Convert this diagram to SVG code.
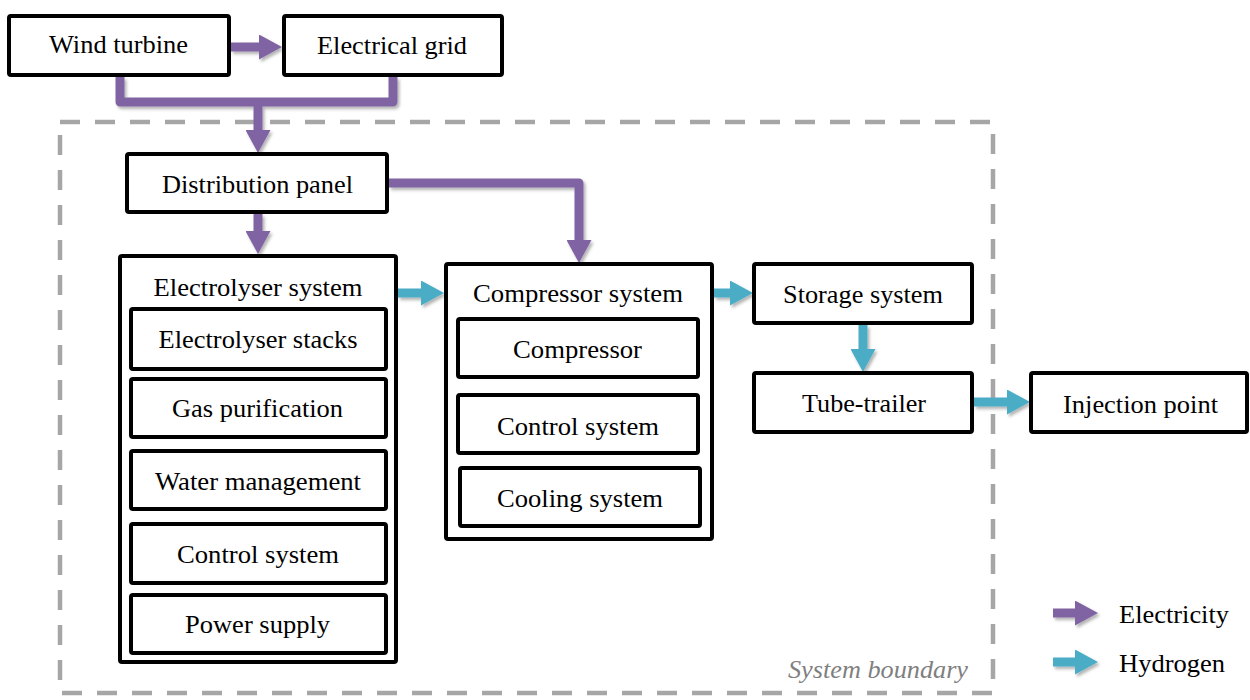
<svg xmlns="http://www.w3.org/2000/svg" width="1250" height="700" viewBox="0 0 1250 700">
<style>
.box{fill:#fff;stroke:#000;stroke-width:4}
.t{font-family:"Liberation Serif","Times New Roman",serif;font-size:25px;fill:#000;text-anchor:middle}
.tl{font-family:"Liberation Serif","Times New Roman",serif;font-size:25px;fill:#000}
.el{fill:none;stroke:#8064a2;stroke-width:9;stroke-linejoin:round}
.hy{fill:none;stroke:#4bacc6;stroke-width:9;stroke-linejoin:round}
.ea{marker-end:url(#hE)}
.ha{marker-end:url(#hH)}
.bound{fill:none;stroke:#a6a6a6;stroke-width:4.5;stroke-dasharray:20 15}
.blabel{font-family:"Liberation Serif","Times New Roman",serif;font-size:25px;font-style:italic;fill:#7f7f7f}
</style>
<defs>
<marker id="hE" markerUnits="userSpaceOnUse" viewBox="0 0 23 25" markerWidth="23" markerHeight="25" refX="1" refY="12.5" orient="auto">
<path d="M0,0 L23,12.5 L0,25 z" fill="#8064a2"/>
</marker>
<marker id="hH" markerUnits="userSpaceOnUse" viewBox="0 0 23 25" markerWidth="23" markerHeight="25" refX="1" refY="12.5" orient="auto">
<path d="M0,0 L23,12.5 L0,25 z" fill="#4bacc6"/>
</marker>
<filter id="sh" filterUnits="userSpaceOnUse" x="0" y="0" width="1250" height="700">
<feDropShadow dx="2" dy="2.5" stdDeviation="1.5" flood-color="#000" flood-opacity="0.3"/>
</filter>
</defs>
<rect width="1250" height="700" fill="#fff"/>

<g id="system-boundary">
<rect class="bound" x="60" y="122" width="933" height="571"/>
<text class="blabel" x="788" y="678" textLength="180" lengthAdjust="spacingAndGlyphs">System boundary</text>
</g>

<g id="connectors" filter="url(#sh)">
<path class="el ea" d="M231,47 H260"/>
<path class="el" d="M120,77 V102 H393 V77"/>
<path class="el ea" d="M258,102 V131"/>
<path class="el ea" d="M389,183 H579 V241"/>
<path class="el ea" d="M258,214 V232"/>
<path class="hy ha" d="M398,293 H422"/>
<path class="hy ha" d="M714,293 H731"/>
<path class="hy ha" d="M863,325 V350"/>
<path class="hy ha" d="M974,402 H1008"/>
</g>

<g id="wind-turbine">
<rect class="box" x="9" y="16" width="220" height="59" rx="2"/>
<text class="t" x="118.5" y="53" textLength="139" lengthAdjust="spacingAndGlyphs">Wind turbine</text>
</g>
<g id="electrical-grid">
<rect class="box" x="284" y="16" width="218" height="59" rx="2"/>
<text class="t" x="392" y="54" textLength="150" lengthAdjust="spacingAndGlyphs">Electrical grid</text>
</g>
<g id="distribution-panel">
<rect class="box" x="127" y="154" width="260" height="58" rx="2"/>
<text class="t" x="257.5" y="193" textLength="191" lengthAdjust="spacingAndGlyphs">Distribution panel</text>
</g>

<g id="electrolyser-system">
<rect class="box" x="120" y="256" width="276" height="406" rx="2"/>
<text class="t" x="258" y="296" textLength="209" lengthAdjust="spacingAndGlyphs">Electrolyser system</text>
<g id="electrolyser-stacks">
<rect class="box" x="131" y="309" width="255" height="60" rx="2"/>
<text class="t" x="258" y="348" textLength="199" lengthAdjust="spacingAndGlyphs">Electrolyser stacks</text>
</g>
<g id="gas-purification">
<rect class="box" x="131" y="379" width="255" height="58" rx="2"/>
<text class="t" x="257.5" y="417" textLength="171" lengthAdjust="spacingAndGlyphs">Gas purification</text>
</g>
<g id="water-management">
<rect class="box" x="131" y="451" width="255" height="58" rx="2"/>
<text class="t" x="258" y="490" textLength="206" lengthAdjust="spacingAndGlyphs">Water management</text>
</g>
<g id="electrolyser-control-system">
<rect class="box" x="131" y="524" width="255" height="59" rx="2"/>
<text class="t" x="258" y="563" textLength="162" lengthAdjust="spacingAndGlyphs">Control system</text>
</g>
<g id="power-supply">
<rect class="box" x="131" y="595" width="255" height="58" rx="2"/>
<text class="t" x="257.5" y="633" textLength="145" lengthAdjust="spacingAndGlyphs">Power supply</text>
</g>
</g>

<g id="compressor-system">
<rect class="box" x="446" y="264" width="266" height="275" rx="2"/>
<text class="t" x="578" y="302" textLength="210" lengthAdjust="spacingAndGlyphs">Compressor system</text>
<g id="compressor">
<rect class="box" x="458" y="319" width="240" height="58" rx="2"/>
<text class="t" x="577.5" y="358" textLength="129" lengthAdjust="spacingAndGlyphs">Compressor</text>
</g>
<g id="compressor-control-system">
<rect class="box" x="458" y="395" width="240" height="58" rx="2"/>
<text class="t" x="578" y="435" textLength="162" lengthAdjust="spacingAndGlyphs">Control system</text>
</g>
<g id="cooling-system">
<rect class="box" x="460" y="468" width="240" height="58" rx="2"/>
<text class="t" x="580" y="507" textLength="166" lengthAdjust="spacingAndGlyphs">Cooling system</text>
</g>
</g>

<g id="storage-system">
<rect class="box" x="754" y="264" width="218" height="59" rx="2"/>
<text class="t" x="863" y="303" textLength="160" lengthAdjust="spacingAndGlyphs">Storage system</text>
</g>
<g id="tube-trailer">
<rect class="box" x="754" y="373" width="218" height="59" rx="2"/>
<text class="t" x="864" y="412" textLength="124" lengthAdjust="spacingAndGlyphs">Tube-trailer</text>
</g>
<g id="injection-point">
<rect class="box" x="1031" y="373" width="216" height="59" rx="2"/>
<text class="t" x="1140.5" y="413" textLength="155" lengthAdjust="spacingAndGlyphs">Injection point</text>
</g>

<g id="legend">
<g filter="url(#sh)">
<path class="el ea" d="M1053,613 H1076"/>
<path class="hy ha" d="M1053,662 H1076"/>
</g>
<text class="tl" x="1119" y="623" textLength="110" lengthAdjust="spacingAndGlyphs">Electricity</text>
<text class="tl" x="1119" y="672" textLength="106" lengthAdjust="spacingAndGlyphs">Hydrogen</text>
</g>
</svg>
